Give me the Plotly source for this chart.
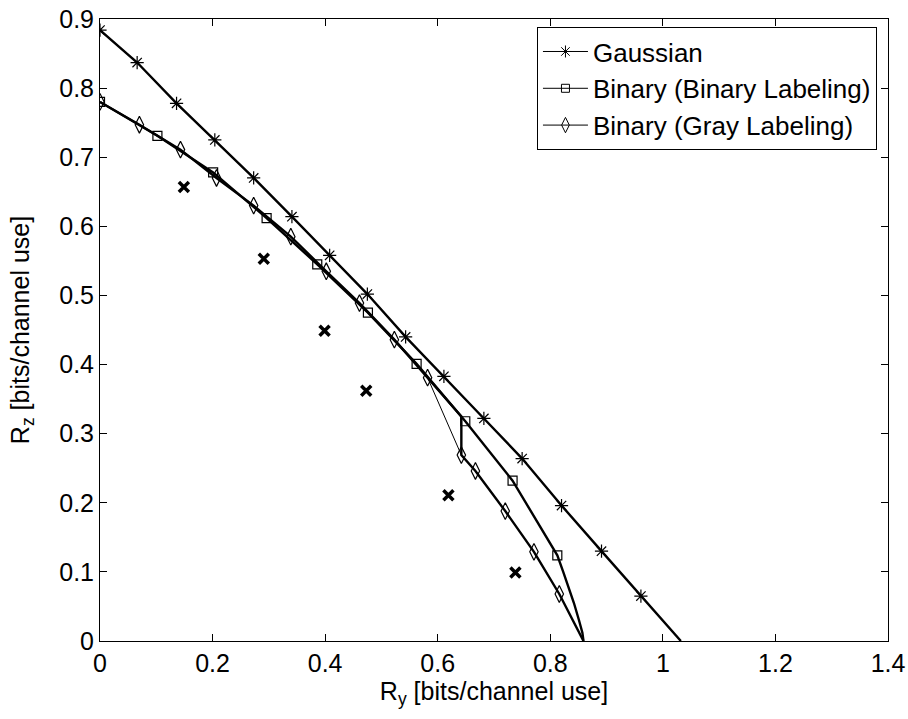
import plotly.graph_objects as go

# ---------------- data ----------------
gauss_ry = [0.000, 0.066, 0.136, 0.204, 0.273, 0.341, 0.408, 0.475, 0.543, 0.611,
            0.682, 0.750, 0.820, 0.891, 0.961, 1.032]
gauss_rz = [0.884, 0.837, 0.778, 0.725, 0.670, 0.614, 0.558, 0.502, 0.440, 0.383,
            0.322, 0.264, 0.196, 0.130, 0.065, 0.000]
gauss_marker_idx = list(range(15))

bin_ry = [0.000, 0.102, 0.201, 0.296, 0.386, 0.476, 0.5625, 0.649, 0.733, 0.8125,
          0.823, 0.832, 0.842, 0.851, 0.857, 0.859]
bin_rz = [0.780, 0.731, 0.678, 0.612, 0.545, 0.475, 0.401, 0.318, 0.232, 0.124,
          0.100, 0.079, 0.055, 0.030, 0.012, 0.000]
bin_marker_idx = list(range(10))

gray_ry = [0.000, 0.070, 0.143, 0.207, 0.273, 0.339, 0.402, 0.461, 0.523, 0.582,
           0.642, 0.642, 0.667, 0.720, 0.771, 0.816, 0.859]
gray_rz = [0.780, 0.747, 0.711, 0.670, 0.630, 0.585, 0.535, 0.489, 0.436, 0.381,
           0.325, 0.269, 0.246, 0.188, 0.129, 0.068, 0.000]
gray_marker_idx = [0, 1, 2, 3, 4, 5, 6, 7, 8, 9, 11, 12, 13, 14, 15]

hull_ry = [0.582, 0.642]
hull_rz = [0.381, 0.269]

cross_ry = [0.149, 0.291, 0.399, 0.473, 0.619, 0.738]
cross_rz = [0.657, 0.553, 0.449, 0.362, 0.211, 0.099]

names = ["Gaussian", "Binary (Binary Labeling)", "Binary (Gray Labeling)"]

# ---------------- figure ----------------
FONT = "Liberation Sans, Arial, sans-serif"
FS = 25
fig = go.Figure()

series = [
    (gauss_ry, gauss_rz, gauss_marker_idx, "asterisk-open", 11),
    (bin_ry, bin_rz, bin_marker_idx, "square-open", 9),
    (gray_ry, gray_rz, gray_marker_idx, "diamond-tall-open", 12),
]

for (xs, ys, idx, sym, size) in series:
    fig.add_trace(go.Scatter(x=xs, y=ys, mode="lines", showlegend=False,
                             line=dict(color="black", width=2.4)))
    fig.add_trace(go.Scatter(x=[xs[i] for i in idx], y=[ys[i] for i in idx],
                             mode="markers", showlegend=False,
                             marker=dict(symbol=sym, size=size, color="black",
                                         line=dict(color="black", width=1.2))))

fig.add_trace(go.Scatter(x=hull_ry, y=hull_rz, mode="lines", showlegend=False,
                         line=dict(color="black", width=1)))

fig.add_trace(go.Scatter(x=cross_ry, y=cross_rz, mode="markers", showlegend=False,
                         marker=dict(symbol="x-thin-open", size=10, color="black",
                                     line=dict(color="black", width=3.5))))

# legend entries
for name, (_, _, _, sym, size) in zip(names, series):
    fig.add_trace(go.Scatter(x=[None], y=[None], mode="lines+markers", name=name,
                             line=dict(color="black", width=1),
                             marker=dict(symbol=sym, size=size - 1, color="black",
                                         line=dict(color="black", width=1))))

axis_common = dict(showgrid=False, zeroline=False, showline=True, linecolor="black",
                   linewidth=1, mirror="ticks", ticks="inside", ticklen=7,
                   tickcolor="black", automargin=False,
                   tickfont=dict(family=FONT, size=FS, color="black"))

fig.update_layout(
    width=908, height=719,
    margin=dict(l=100, r=20, t=19, b=78),
    paper_bgcolor="white", plot_bgcolor="white",
    font=dict(family=FONT, color="black"),
    xaxis=dict(range=[0, 1.4], dtick=0.2, tick0=0,
               title=dict(text="R<sub>y</sub> [bits/channel use]",
                          font=dict(family=FONT, size=FS), standoff=0),
               **axis_common),
    yaxis=dict(range=[0, 0.9], dtick=0.1, tick0=0,
               title=dict(text="R<sub>z</sub> [bits/channel use]",
                          font=dict(family=FONT, size=FS), standoff=22),
               **axis_common),
    legend=dict(x=0.986, y=0.987, xanchor="right", yanchor="top",
                bordercolor="black", borderwidth=1, bgcolor="white",
                font=dict(family=FONT, size=26, color="black"),
                itemwidth=45, tracegroupgap=0),
    showlegend=True,
)

fig.write_html("out.html",
               config={"displayModeBar": False},
               post_script="document.body.style.margin='0';"
                           "document.body.style.overflow='hidden';")
